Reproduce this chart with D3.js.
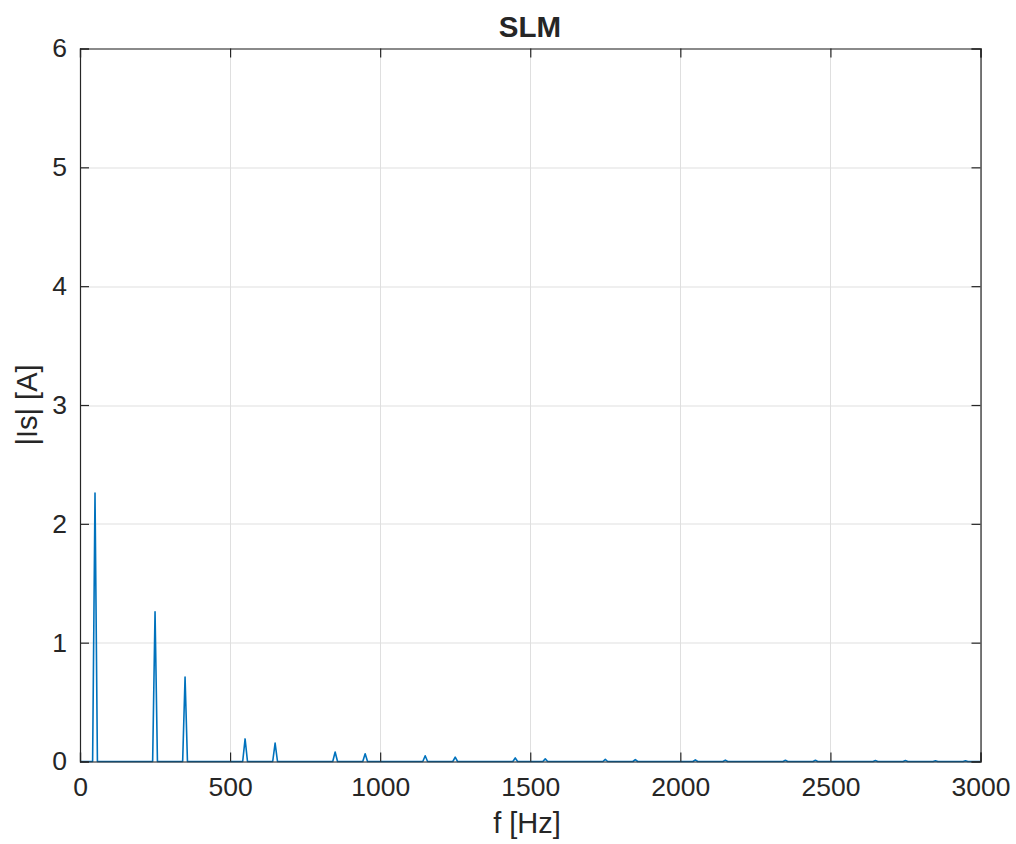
<!DOCTYPE html>
<html>
<head>
<meta charset="utf-8">
<script src="https://cdn.jsdelivr.net/npm/d3@7"></script>
<style>
  html, body { margin: 0; padding: 0; background: #fff; }
  svg { display: block; }
  text { font-family: "Liberation Sans", Arial, Helvetica, sans-serif; fill: #262626; }
</style>
</head>
<body>
<svg id="chart" width="1016" height="844"></svg>
<script>
// Harmonic content of the stator current spectrum
const harmonicFreqs = [50, 250, 350, 550, 650, 850, 950, 1150, 1250, 1450, 1550, 1750, 1850, 2050, 2150, 2350, 2450, 2650, 2750, 2850, 2950];
const harmonicAmps  = [2.26, 1.26, 0.71, 0.19, 0.155, 0.08, 0.065, 0.048, 0.037, 0.03, 0.022, 0.018, 0.016, 0.014, 0.012, 0.01, 0.01, 0.008, 0.008, 0.006, 0.006];

const xTicks = [0, 500, 1000, 1500, 2000, 2500, 3000];
const yTicks = [0, 1, 2, 3, 4, 5, 6];

const titleText = "SLM";
const xLabel = "f [Hz]";
const yLabel = "|Is| [A]";

const margin = { left: 80, top: 48.5 };
const iw = 980.5 - margin.left, ih = 761.5 - margin.top;

const svg = d3.select("#chart");
const g = svg.append("g").attr("transform", `translate(${margin.left},${margin.top})`);

const x = d3.scaleLinear().domain([0, 3000]).range([0, iw]);
const y = d3.scaleLinear().domain([0, 6]).range([ih, 0]);

const axisColor = "#262626";
const gridColor = "#dfdfdf";

// grid
g.append("g").selectAll("line").data(xTicks).join("line")
  .attr("x1", d => Math.round(x(d)) + 0.5).attr("x2", d => Math.round(x(d)) + 0.5)
  .attr("y1", 0).attr("y2", ih)
  .attr("stroke", gridColor).attr("stroke-width", 1);
g.append("g").selectAll("line").data(yTicks).join("line")
  .attr("x1", 0).attr("x2", iw)
  .attr("y1", d => Math.round(y(d)) + 0.5).attr("y2", d => Math.round(y(d)) + 0.5)
  .attr("stroke", gridColor).attr("stroke-width", 1);

// spectrum line: each harmonic drawn as a narrow spike from the baseline
const pts = [[0, 0]];
harmonicFreqs.forEach((f, i) => {
  pts.push([f - 8, 0], [f, harmonicAmps[i]], [f + 8, 0]);
});
pts.push([3000, 0]);

g.append("path")
  .datum(pts)
  .attr("fill", "none")
  .attr("stroke", "#0072BD")
  .attr("stroke-width", 1.6)
  .attr("stroke-linejoin", "round")
  .attr("d", d3.line().x(d => x(d[0])).y(d => y(d[1])));

// axes (ticks pointing inward, mirrored on top and right)
const tickLen = 9;
const xb = g.append("g").attr("transform", `translate(0,${ih})`)
  .call(d3.axisBottom(x).tickValues(xTicks).tickSize(-tickLen).tickPadding(16).tickFormat(d3.format("d")));
const xt = g.append("g")
  .call(d3.axisTop(x).tickValues(xTicks).tickSize(-tickLen).tickFormat(""));
const yl = g.append("g")
  .call(d3.axisLeft(y).tickValues(yTicks).tickSize(-tickLen).tickPadding(13).tickFormat(d3.format("d")));
const yr = g.append("g").attr("transform", `translate(${iw},0)`)
  .call(d3.axisRight(y).tickValues(yTicks).tickSize(-tickLen).tickFormat(""));

[xb, xt, yl, yr].forEach(a => {
  a.select(".domain").attr("stroke", axisColor).attr("stroke-width", 1.2);
  a.selectAll(".tick line").attr("stroke", axisColor).attr("stroke-width", 1.2);
  a.selectAll("text").attr("fill", axisColor).style("font-size", "26.5px")
    .style("font-family", "'Liberation Sans', Arial, Helvetica, sans-serif");
});
xb.selectAll("text").attr("dy", "0.71em");

// title and axis labels
svg.append("text").attr("x", 530).attr("y", 37).attr("text-anchor", "middle")
  .style("font-size", "29.5px").style("font-weight", "bold").attr("fill", "#000").text(titleText);
svg.append("text").attr("x", 527).attr("y", 833).attr("text-anchor", "middle")
  .style("font-size", "29px").text(xLabel);
svg.append("text").attr("transform", `translate(37,${margin.top + ih / 2}) rotate(-90)`)
  .attr("text-anchor", "middle").style("font-size", "29px").text(yLabel);
</script>
</body>
</html>
